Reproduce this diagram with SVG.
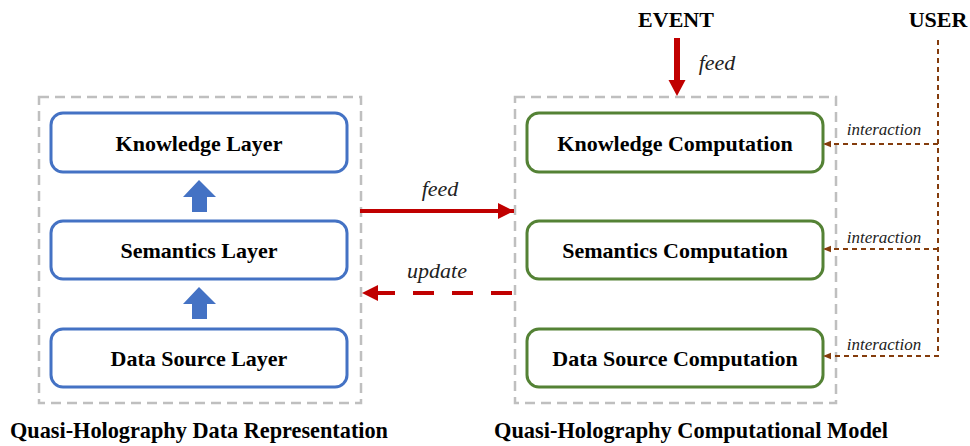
<svg xmlns="http://www.w3.org/2000/svg" width="970" height="446" viewBox="0 0 970 446">
  <style>
    .frame { fill: none; stroke: #BFBFBF; stroke-width: 2.5; stroke-dasharray: 10 6; }
    .layer { fill: #FFFFFF; stroke: #4472C4; stroke-width: 3; }
    .comp { fill: #FFFFFF; stroke: #548235; stroke-width: 3; }
    .lbl { font-family: "Liberation Serif", "Times New Roman", serif; font-weight: bold; font-size: 22px; fill: #000; text-anchor: middle; }
    .it { font-family: "Liberation Serif", "Times New Roman", serif; font-style: italic; font-size: 22px; fill: #222; text-anchor: middle; }
    .ia { font-family: "Liberation Serif", "Times New Roman", serif; font-style: italic; font-size: 17px; fill: #222; text-anchor: middle; }
    .title { font-family: "Liberation Serif", "Times New Roman", serif; font-weight: bold; font-size: 24px; fill: #000; }
    .red { stroke: #C00000; stroke-width: 4; fill: none; }
    .user { stroke: #843C0C; stroke-width: 2; fill: none; stroke-dasharray: 5 4; }
    .up { fill: #4472C4; }
  </style>
  <defs>
    <marker id="redHead" viewBox="0 0 10 10" refX="10" refY="5" markerWidth="4" markerHeight="4" markerUnits="strokeWidth" orient="auto">
      <path d="M0,0 L10,5 L0,10 Z" fill="#C00000"/>
    </marker>
    <marker id="brownHead" viewBox="0 0 10 10" refX="10" refY="5" markerWidth="4" markerHeight="4" markerUnits="strokeWidth" orient="auto">
      <path d="M0,1 L10,5 L0,9 Z" fill="#843C0C"/>
    </marker>
  </defs>

  <!-- dashed containers -->
  <rect class="frame" x="39" y="97" width="322" height="306"/>
  <rect class="frame" x="515" y="97" width="321" height="306"/>

  <!-- representation layers -->
  <g id="knowledge-layer">
    <rect class="layer" x="51" y="113" width="296" height="59" rx="12"/>
    <text class="lbl" x="199" y="151">Knowledge Layer</text>
  </g>
  <g id="semantics-layer">
    <rect class="layer" x="51" y="221" width="296" height="58" rx="12"/>
    <text class="lbl" x="199" y="258">Semantics Layer</text>
  </g>
  <g id="data-source-layer">
    <rect class="layer" x="51" y="329" width="296" height="58" rx="12"/>
    <text class="lbl" x="199" y="366">Data Source Layer</text>
  </g>

  <!-- computation nodes -->
  <g id="knowledge-computation">
    <rect class="comp" x="527" y="113" width="296" height="59" rx="12"/>
    <text class="lbl" x="675" y="151">Knowledge Computation</text>
  </g>
  <g id="semantics-computation">
    <rect class="comp" x="527" y="221" width="296" height="58" rx="12"/>
    <text class="lbl" x="675" y="258">Semantics Computation</text>
  </g>
  <g id="data-source-computation">
    <rect class="comp" x="527" y="329" width="296" height="58" rx="12"/>
    <text class="lbl" x="675" y="366">Data Source Computation</text>
  </g>

  <!-- sources -->
  <g id="event">
    <text class="lbl" x="676" y="27">EVENT</text>
  </g>
  <g id="user">
    <text class="lbl" x="938" y="27">USER</text>
  </g>

  <!-- connectors -->
  <g id="connectors">
    <!-- stacking arrows between layers -->
    <path class="up" d="M199,180 L216,197 L207,197 L207,212 L192,212 L192,197 L183,197 Z"/>
    <path class="up" d="M199,287 L216,304 L207,304 L207,319 L192,319 L192,304 L183,304 Z"/>

    <!-- feed / update between the two halves -->
    <line class="red" x1="360" y1="211" x2="514" y2="211" marker-end="url(#redHead)"/>
    <text class="it" x="440" y="196">feed</text>
    <line class="red" x1="512" y1="293" x2="362" y2="293" stroke-dasharray="21 18" marker-end="url(#redHead)"/>
    <text class="it" x="437" y="278">update</text>

    <!-- event feed -->
    <path d="M674,38 L680,38 L680,80 L685.5,80 L677,96 L668.5,80 L674,80 Z" fill="#C00000"/>
    <text class="it" x="717" y="70">feed</text>

    <!-- user interactions -->
    <path class="user" d="M938,40 L938,356 L823,356" marker-end="url(#brownHead)"/>
    <path class="user" d="M938,144 L823,144" marker-end="url(#brownHead)"/>
    <path class="user" d="M938,249 L823,249" marker-end="url(#brownHead)"/>
    <text class="ia" x="884" y="135">interaction</text>
    <text class="ia" x="884" y="243">interaction</text>
    <text class="ia" x="884" y="350">interaction</text>
  </g>

  <!-- captions -->
  <text class="title" x="10" y="438" textLength="378" lengthAdjust="spacingAndGlyphs">Quasi-Holography Data Representation</text>
  <text class="title" x="494" y="438" textLength="394" lengthAdjust="spacingAndGlyphs">Quasi-Holography Computational Model</text>
</svg>
